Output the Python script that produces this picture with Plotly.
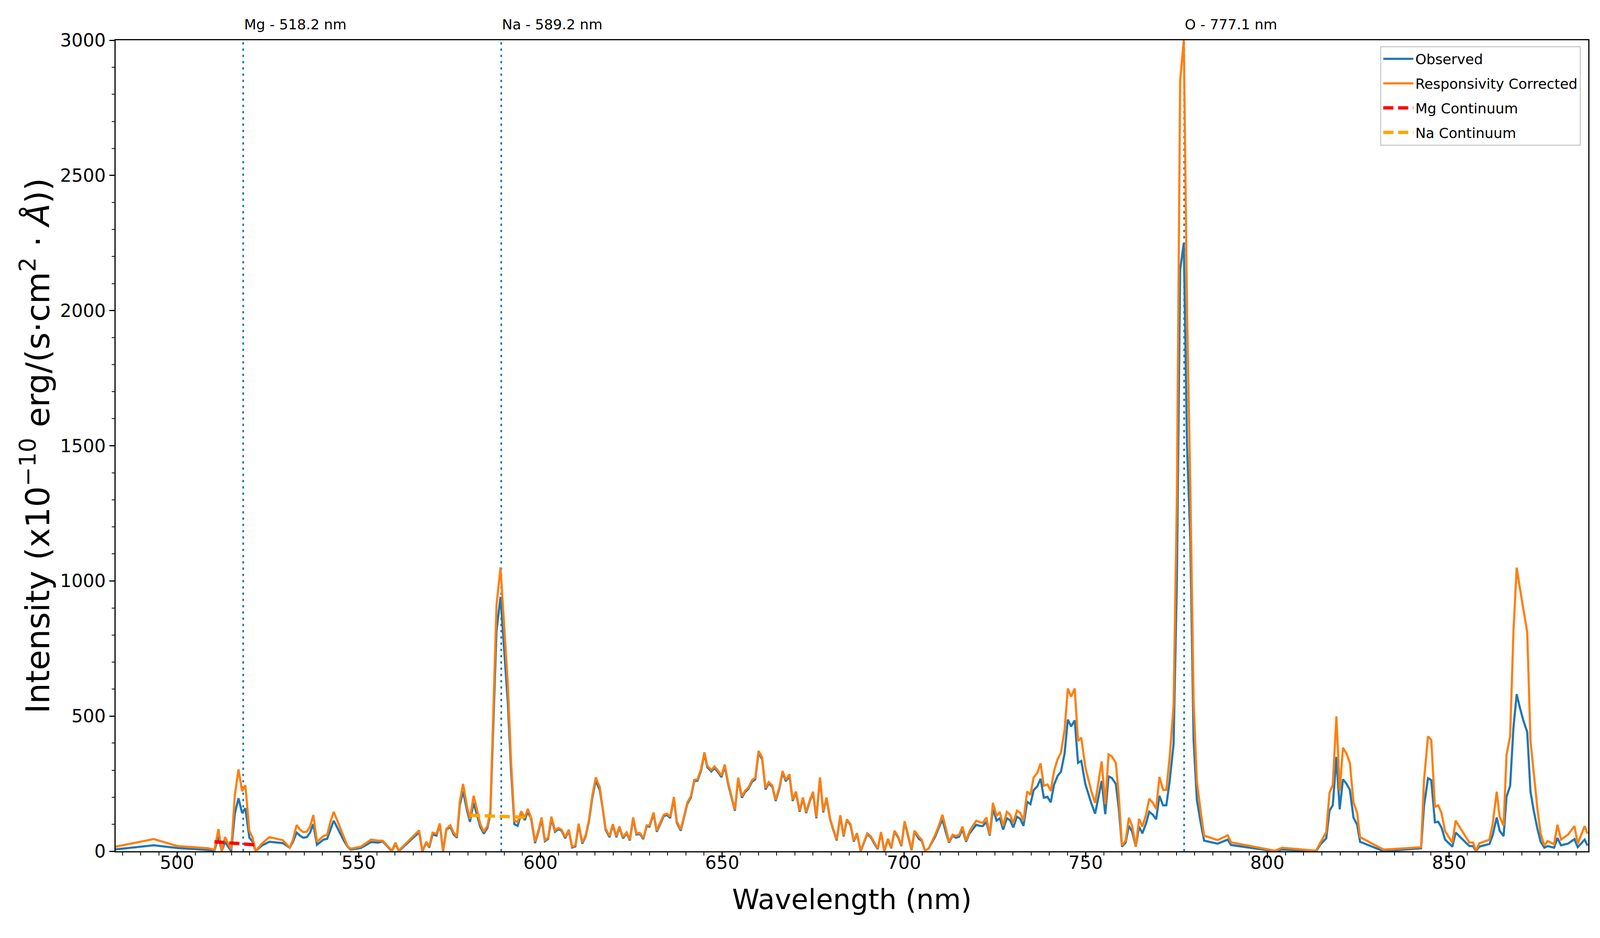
import plotly.graph_objects as go

# wavelength grid (nm) and the two spectra
wavelength = [
    483.1, 493.6, 500.1, 508.6, 510.3, 511.4, 512.3, 513.2, 514.9, 515.9,
    516.9, 517.9, 518.8, 519.9, 520.8, 521.6, 523.3, 525.4, 529.1, 531.0,
    531.9, 532.9, 533.8, 534.7, 535.7, 536.6, 537.5, 538.5, 540.3, 541.3,
    542.2, 543.1, 544.1, 545.9, 546.9, 547.8, 550.6, 553.4, 555.3, 556.6,
    559.1, 560.1, 561.0, 562.6, 566.6, 567.5, 568.6, 569.4, 570.3, 571.4,
    572.3, 573.2, 574.1, 575.2, 576.1, 577.0, 577.8, 578.7, 579.8, 580.6,
    581.6, 582.6, 583.4, 584.4, 585.4, 586.2, 587.9, 589.0, 591.0, 591.9,
    592.8, 593.7, 594.7, 595.7, 596.5, 597.5, 598.5, 599.5, 600.3, 601.2,
    602.1, 603.0, 604.0, 604.9, 605.8, 606.8, 607.8, 608.7, 609.6, 610.5,
    611.5, 612.4, 613.3, 614.3, 615.2, 616.3, 617.1, 617.9, 619.0, 619.9,
    620.9, 621.7, 622.7, 623.7, 624.6, 625.5, 626.4, 627.3, 628.3, 629.2,
    630.0, 631.1, 632.0, 632.9, 633.9, 634.8, 635.7, 636.7, 637.5, 638.6,
    639.5, 640.4, 641.4, 642.3, 643.2, 644.2, 645.1, 645.9, 647.0, 647.9,
    648.8, 649.8, 650.7, 651.6, 652.6, 653.5, 654.4, 655.4, 656.3, 657.2,
    658.2, 659.1, 660.0, 661.0, 661.9, 662.8, 663.8, 664.7, 665.7, 666.6,
    667.5, 668.5, 669.4, 670.3, 671.3, 672.2, 673.1, 674.1, 675.0, 675.9,
    676.9, 677.8, 678.7, 679.7, 680.6, 681.5, 682.5, 683.4, 684.3, 685.3,
    686.2, 687.1, 688.1, 689.0, 689.9, 690.9, 691.8, 692.8, 693.7, 694.6,
    695.6, 696.5, 697.4, 698.4, 699.3, 700.2, 701.2, 702.1, 702.9, 704.1,
    704.9, 705.8, 706.8, 707.7, 708.6, 709.6, 710.6, 711.5, 712.4, 713.4,
    714.3, 715.2, 716.1, 717.1, 718.0, 718.9, 719.9, 720.8, 721.7, 722.7,
    723.6, 724.5, 725.5, 726.4, 727.3, 728.3, 729.2, 730.1, 731.1, 732.0,
    732.9, 733.9, 734.8, 735.7, 736.7, 737.6, 738.5, 739.5, 740.4, 741.3,
    742.3, 743.2, 744.2, 745.1, 746.0, 747.0, 747.9, 748.8, 749.9, 751.6,
    752.6, 753.5, 754.4, 755.4, 756.3, 757.2, 758.3, 759.1, 760.0, 761.0,
    761.9, 762.8, 763.8, 764.7, 765.6, 766.6, 767.5, 768.5, 769.4, 770.3,
    771.3, 772.2, 773.1, 774.2, 775.1, 776.0, 777.0, 777.9, 778.8, 779.7,
    780.6, 781.7, 782.6, 786.3, 789.1, 790.0, 802.1, 804.1, 813.4, 814.6,
    816.2, 817.1, 818.0, 819.0, 819.9, 820.8, 821.8, 822.7, 823.7, 824.7,
    825.5, 832.0, 842.3, 843.1, 844.2, 845.1, 846.1, 847.0, 847.9, 848.9,
    849.8, 850.9, 851.8, 855.6, 856.6, 857.4, 858.3, 861.1, 862.0, 863.1,
    863.9, 865.0, 865.8, 866.8, 867.7, 868.6, 869.5, 870.4, 871.5, 872.4,
    873.3, 874.3, 875.2, 876.2, 877.1, 878.9, 879.8, 880.8, 882.7, 884.5,
    885.4, 887.3, 888.1,
]

observed = [
    7, 22, 12, 6, 3, 54, 0, 35, 0, 139,
    196, 142, 159, 50, 35, 0, 21, 35, 30, 13,
    35, 69, 58, 50, 52, 69, 100, 24, 43, 46,
    80, 113, 87, 39, 17, 6, 12, 34, 32, 36,
    0, 28, 0, 20, 70, 0, 32, 14, 62, 58,
    100, 0, 80, 90, 62, 50, 170, 222, 150, 109,
    179, 131, 91, 65, 86, 139, 815, 941, 552, 300,
    100, 94, 140, 115, 148, 115, 30, 75, 118, 37,
    46, 120, 72, 82, 76, 48, 76, 14, 18, 98,
    28, 54, 108, 200, 262, 226, 160, 80, 52, 96,
    52, 88, 48, 66, 40, 120, 62, 64, 45, 92,
    91, 138, 72, 99, 130, 134, 123, 196, 106, 76,
    128, 175, 199, 259, 261, 299, 360, 311, 295, 308,
    293, 274, 315, 250, 196, 150, 267, 198, 219, 230,
    257, 266, 364, 340, 228, 251, 238, 186, 230, 291,
    259, 279, 186, 217, 146, 195, 141, 185, 216, 122,
    268, 144, 195, 117, 77, 40, 130, 55, 115, 97,
    36, 64, 0, 32, 63, 52, 29, 8, 68, 0,
    43, 11, 73, 51, 19, 107, 55, 4, 73, 46,
    39, 2, 10, 32, 54, 87, 117, 72, 32, 58,
    50, 54, 81, 35, 65, 81, 98, 94, 93, 109,
    58, 157, 113, 122, 80, 122, 115, 88, 128, 120,
    94, 183, 174, 226, 240, 268, 198, 201, 181, 246,
    279, 294, 361, 487, 462, 484, 327, 334, 249, 176,
    139, 198, 260, 137, 277, 271, 249, 161, 17, 32,
    94, 72, 17, 91, 66, 102, 146, 135, 118, 205,
    170, 170, 257, 397, 1000, 2150, 2250, 1500, 1150, 411,
    190, 102, 39, 28, 43, 23, 0, 6, 0, 25,
    48, 150, 170, 349, 155, 266, 249, 227, 124, 98,
    35, 0, 11, 168, 270, 263, 107, 109, 88, 43,
    32, 17, 69, 19, 19, 0, 17, 27, 59, 125,
    76, 56, 201, 242, 456, 581, 530, 485, 441, 220,
    150, 83, 35, 13, 19, 13, 49, 22, 28, 45,
    15, 43, 21,
]

corrected = [
    17, 45, 19, 11, 6, 82, 0, 52, 7, 207,
    303, 222, 244, 75, 50, 0, 28, 52, 41, 13,
    43, 97, 80, 71, 72, 91, 134, 35, 56, 61,
    109, 146, 113, 52, 19, 9, 17, 43, 39, 39,
    2, 32, 2, 24, 77, 2, 35, 17, 69, 65,
    103, 2, 83, 96, 69, 54, 183, 249, 164, 120,
    205, 150, 102, 72, 94, 150, 910, 1050, 622, 334,
    113, 108, 148, 124, 157, 122, 35, 80, 125, 41,
    50, 128, 77, 86, 80, 52, 80, 17, 21, 102,
    32, 58, 113, 209, 273, 238, 168, 85, 56, 100,
    56, 92, 52, 70, 43, 125, 66, 68, 48, 96,
    95, 143, 76, 103, 135, 139, 128, 201, 111, 80,
    133, 180, 204, 264, 266, 305, 366, 316, 301, 314,
    299, 280, 321, 256, 201, 154, 272, 203, 224, 235,
    263, 272, 371, 346, 233, 256, 243, 190, 235, 297,
    264, 285, 190, 221, 150, 199, 145, 189, 220, 126,
    273, 148, 199, 120, 80, 43, 133, 58, 118, 100,
    39, 67, 2, 35, 66, 55, 32, 10, 71, 2,
    46, 13, 76, 54, 21, 111, 58, 6, 76, 54,
    43, 2, 10, 35, 61, 94, 135, 87, 35, 61,
    56, 61, 91, 39, 72, 93, 113, 108, 105, 125,
    61, 179, 131, 145, 93, 146, 135, 105, 150, 142,
    114, 221, 209, 273, 290, 325, 242, 247, 223, 297,
    341, 364, 448, 602, 572, 602, 408, 420, 312, 220,
    179, 253, 332, 174, 358, 351, 327, 209, 21, 39,
    124, 94, 17, 120, 91, 135, 194, 179, 157, 275,
    227, 227, 345, 540, 1300, 2850, 3000, 2000, 1350, 559,
    260, 142, 58, 41, 59, 33, 2, 13, 2, 32,
    71, 216, 246, 499, 223, 383, 360, 327, 181, 142,
    52, 6, 15, 263, 425, 412, 164, 170, 142, 74,
    54, 32, 113, 32, 32, 2, 29, 43, 102, 220,
    128, 94, 356, 426, 810, 1049, 972, 895, 810, 408,
    285, 157, 65, 21, 38, 26, 98, 43, 61, 93,
    28, 93, 65,
]

# continuum estimates under the Mg and Na lines
mg_cont_x = [510.3, 521.2]
mg_cont_y = [35, 24]
na_cont_x = [580.6, 597.4]
na_cont_y = [133, 125]

# reference emission lines
line_names = ["Mg", "Na", "O"]
line_wl = [518.2, 589.2, 777.1]

FONT = "DejaVu Sans"

fig = go.Figure()
fig.add_trace(go.Scatter(x=wavelength, y=observed, mode="lines", name="Observed",
                         legendgroup="obs", line=dict(color="#1f77b4", width=5.5)))
fig.add_trace(go.Scatter(x=wavelength, y=corrected, mode="lines", name="Responsivity Corrected",
                         legendgroup="corr", line=dict(color="#ff7f0e", width=5.5)))
fig.add_trace(go.Scatter(x=mg_cont_x, y=mg_cont_y, mode="lines", name="Mg Continuum",
                         legendgroup="mg", line=dict(color="red", width=8.5, dash="26px,12px")))
fig.add_trace(go.Scatter(x=na_cont_x, y=na_cont_y, mode="lines", name="Na Continuum",
                         legendgroup="na", line=dict(color="orange", width=8.5, dash="26px,12px")))

for name, wl in zip(line_names, line_wl):
    fig.add_shape(type="line", xref="x", yref="paper", x0=wl, x1=wl, y0=0, y1=1,
                  line=dict(color="#1f77b4", width=4.3, dash="6px,10px"), layer="below")
    fig.add_annotation(x=wl, y=1, xref="x", yref="paper", text=f"{name} - {wl} nm",
                       showarrow=False, xanchor="left", yanchor="bottom", yshift=18,
                       font=dict(family=FONT, size=36, color="black"))

axis_common = dict(
    showgrid=False, zeroline=False, showline=True, mirror=True,
    linecolor="black", linewidth=3, ticks="outside", tickwidth=3,
    tickcolor="black", tickfont=dict(family=FONT, size=46, color="black"),
)

fig.update_layout(
    width=4096, height=2400,
    paper_bgcolor="white", plot_bgcolor="white",
    margin=dict(l=288, r=38, t=95, b=230),
    font=dict(family=FONT, color="black"),
    xaxis=dict(range=[483.1, 888.3], dtick=50, ticklen=15, ticklabelstandoff=-28,
               minor=dict(dtick=5, ticks="outside", ticklen=8, tickwidth=2.4, tickcolor="black"),
               title=dict(text="Wavelength (nm)", font=dict(family=FONT, size=71), standoff=44),
               **axis_common),
    yaxis=dict(range=[0, 3000], dtick=500, ticklen=13,
               minor=dict(dtick=100, ticks="outside", ticklen=7, tickwidth=2.4, tickcolor="black"),
               title=dict(text="Intensity (x10<sup>\u221210</sup> erg/(s\u00b7cm<sup>2</sup> \u00b7 <i>\u00c5</i>))",
                          font=dict(family=FONT, size=84), standoff=0),
               **axis_common),
    legend=dict(x=0.995, y=0.993, xanchor="right", yanchor="top",
                bgcolor="rgba(255,255,255,0.8)", bordercolor="#cccccc", borderwidth=3,
                font=dict(family=FONT, size=36, color="black"), itemwidth=77,
                tracegroupgap=13),
    showlegend=True,
)

fig.write_html("out.html")
